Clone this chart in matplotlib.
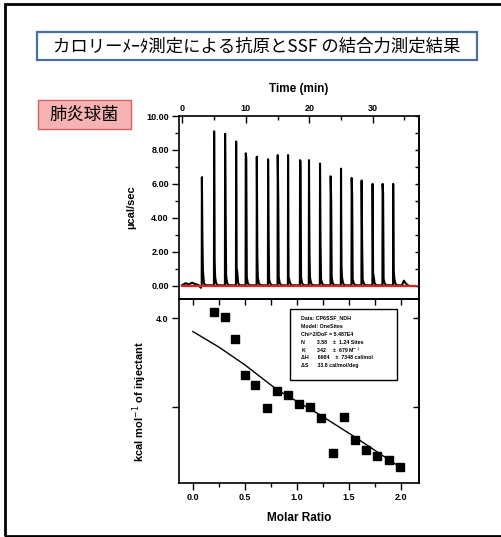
import numpy as np
import matplotlib.pyplot as plt
from matplotlib.patches import Rectangle
from matplotlib.ticker import MultipleLocator, FormatStrFormatter

plt.rcParams['font.family'] = ['Liberation Sans', 'DejaVu Sans']

# --- data ---
# raw ITC trace: injection times (min), spike tops, second sample, small tail bump
inj_time = [3.06, 4.99, 6.72, 8.46, 9.98, 11.72, 13.50, 15.02, 16.65, 18.54,
            19.95, 21.69, 23.37, 25.00, 26.68, 28.25, 29.98, 31.56, 33.23]
peak_height = [6.4, 9.1, 8.95, 8.5, 7.8, 7.6, 7.45, 7.7, 7.7, 7.4,
               7.4, 7.2, 6.45, 6.9, 6.35, 6.2, 6.0, 6.0, 6.0]
second_height = [2.8, 1.5, 4.4, 0.85, 7.5, 1.8, 3.1, 5.2, 0.5, 7.3,
                 1.85, 2.55, 5.0, 1.15, 5.35, 2.6, 0.75, 5.45, 0.9]
tail_height = [0.9, 0.5, 0.6, 0.9, 0.5, 0.5, 0.4, 0.5, 0.4, 0.5,
               0.5, 0.4, 0.5, 0.5, 0.4, 0.4, 0.6, 0.4, 0.5]
pre_time = [-0.1, 0.5, 1.0, 1.5, 2.0, 2.5, 2.9]
pre_val = [0.02, 0.15, 0.08, 0.18, 0.1, 0.05, -0.12]
last_time = [34.6, 34.91, 35.3, 35.6]
last_val = [0.02, 0.3, 0.1, 0.02]

# integrated heats
molar_ratio = [0.205, 0.308, 0.404, 0.503, 0.599, 0.709, 0.811, 0.911, 1.019,
               1.125, 1.231, 1.349, 1.449, 1.555, 1.663, 1.769, 1.882, 1.984]
kcal = [4.14, 4.02, 3.53, 2.72, 2.51, 1.98, 2.37, 2.27, 2.07,
        2.01, 1.77, 0.97, 1.79, 1.26, 1.05, 0.91, 0.82, 0.66]
fit_x = [0.0, 0.25, 0.5, 0.81, 1.22, 1.55, 1.98]
fit_y = [3.70, 3.35, 2.95, 2.39, 1.83, 1.34, 0.67]

info_lines = ["Data: CP6SSF_NDH", "Model: OneSites", "Chi^2/DoF = 5.487E4",
              "N        3.58    \u00b1  1.24 Sites", "K        342     \u00b1  679 M$^{-1}$",
              "\u0394H      6984    \u00b1  7348 cal/mol", "\u0394S      33.8 cal/mol/deg"]

title_text = "カロリーﾒｰﾀ測定による抗原とSSF の結合力測定結果"
label_text = "肺炎球菌"

# build trace from the read points
tr_t = list(pre_time)
tr_y = list(pre_val)
for t, p, s, b in zip(inj_time, peak_height, second_height, tail_height):
    tr_t += [t - 0.03, t, t + 0.08, t + 0.16, t + 0.32, t + 0.55]
    tr_y += [0.02, p, s, b, 0.15, 0.03]
tr_t += last_time
tr_y += last_val

W, H = 501, 537
fig = plt.figure(figsize=(W / 100, H / 100), dpi=100)


def fx(px):
    return px / W


def fy(py):
    return 1 - py / H


# outer frame
fig.add_artist(Rectangle((fx(5), fy(536)), 1.2, fy(4) - fy(536), transform=fig.transFigure,
                         fill=False, edgecolor='black', lw=2))

# title box
fig.add_artist(Rectangle((fx(37), fy(60)), fx(477) - fx(37), fy(32) - fy(60),
                         transform=fig.transFigure, facecolor='white',
                         edgecolor='#4a6fa5', lw=1.6))
fig.text(fx(257), fy(46.5), title_text, ha='center', va='center', fontsize=12.5,
         family=['Noto Sans CJK JP', 'DejaVu Sans'])

# red label box
fig.add_artist(Rectangle((fx(38), fy(129)), fx(131) - fx(38), fy(100) - fy(129),
                         transform=fig.transFigure, facecolor='#f7b3b3',
                         edgecolor='#d96060', lw=1))
fig.text(fx(84.5), fy(114.5), label_text, ha='center', va='center', fontsize=12.5,
         family=['Noto Sans CJK JP', 'DejaVu Sans'])

# top panel: raw data
ax1 = fig.add_axes([fx(178.5), fy(299), fx(419) - fx(178.5), fy(116) - fy(299)])
ax1.plot(tr_t, tr_y, color='black', lw=1.5)
ax1.plot([-0.1, 36.8], [0, 0], color='#e02020', lw=1.6)
ax1.set_xlim(-0.63, 37.3)
ax1.set_ylim(-0.78, 10.0)
ax1.xaxis.set_ticks_position('top')
ax1.xaxis.set_label_position('top')
ax1.xaxis.set_major_locator(MultipleLocator(10))
ax1.xaxis.set_minor_locator(MultipleLocator(5))
ax1.yaxis.set_major_locator(MultipleLocator(2))
ax1.yaxis.set_minor_locator(MultipleLocator(1))
ax1.yaxis.set_major_formatter(FormatStrFormatter('%.2f'))
ax1.tick_params(axis='x', which='major', direction='in', length=5, width=1, pad=2)
ax1.tick_params(axis='x', which='minor', direction='in', length=3, width=1)
ax1.tick_params(axis='y', which='major', direction='out', length=5, width=1, pad=2)
ax1.tick_params(axis='y', which='minor', direction='out', length=3, width=1)
for lab in ax1.get_xticklabels() + ax1.get_yticklabels():
    lab.set_fontsize(6.5)
    lab.set_fontweight('bold')
sec1 = ax1.secondary_yaxis('right')
sec1.set_yticks(np.arange(0, 11, 1))
sec1.tick_params(direction='in', length=3, width=1, labelright=False)
for sp in list(ax1.spines.values()) + [sec1.spines['right']]:
    sp.set_linewidth(1.2)

fig.text(fx(299), fy(89), "Time (min)", ha='center', va='center', fontsize=8.5,
         fontweight='bold')
fig.text(fx(131), fy(207), "\u00b5cal/sec", ha='center', va='center', fontsize=8,
         fontweight='bold', rotation=90)

# bottom panel: integrated heats
ax2 = fig.add_axes([fx(178.5), fy(483), fx(419) - fx(178.5), fy(299) - fy(483)])
ax2.plot(fit_x, fit_y, color='black', lw=1.0)
ax2.plot(molar_ratio, kcal, 's', color='black', markersize=5.5)
ax2.set_xlim(-0.138, 2.171)
ax2.set_ylim(0.30, 4.43)
ax2.xaxis.set_major_locator(MultipleLocator(0.5))
ax2.xaxis.set_minor_locator(MultipleLocator(0.25))
ax2.xaxis.set_major_formatter(FormatStrFormatter('%.1f'))
ax2.set_yticks([2.0, 4.0])
ax2.set_yticklabels(['', '4.0'])
ax2.tick_params(axis='both', which='major', direction='out', length=5, width=1, pad=2)
ax2.tick_params(axis='x', which='minor', direction='out', length=3, width=1)
for lab in ax2.get_xticklabels() + ax2.get_yticklabels():
    lab.set_fontsize(6.5)
    lab.set_fontweight('bold')
sec2x = ax2.secondary_xaxis('top')
sec2x.set_xticks(np.arange(0, 2.01, 0.25))
sec2x.tick_params(direction='in', length=4, width=1, labeltop=False)
sec2y = ax2.secondary_yaxis('right')
sec2y.set_yticks([2.0, 4.0])
sec2y.tick_params(direction='in', length=4, width=1, labelright=False)
for sp in list(ax2.spines.values()) + [sec2x.spines['top'], sec2y.spines['right']]:
    sp.set_linewidth(1.2)

ax2.add_patch(Rectangle((0.464, 0.56), 0.446, 0.386, transform=ax2.transAxes,
                        fill=False, edgecolor='black', lw=1.0))
for i, line in enumerate(info_lines):
    ax2.text(0.51, 0.895 - i * 0.043, line, transform=ax2.transAxes, fontsize=3.8,
             fontweight='bold', va='center', ha='left')

fig.text(fx(299), fy(518), "Molar Ratio", ha='center', va='center', fontsize=8.5,
         fontweight='bold')
fig.text(fx(140), fy(402), "kcal mol$^{-1}$ of injectant", ha='center', va='center',
         fontsize=8, fontweight='bold', rotation=90)

fig.savefig("out.png", dpi=100)
